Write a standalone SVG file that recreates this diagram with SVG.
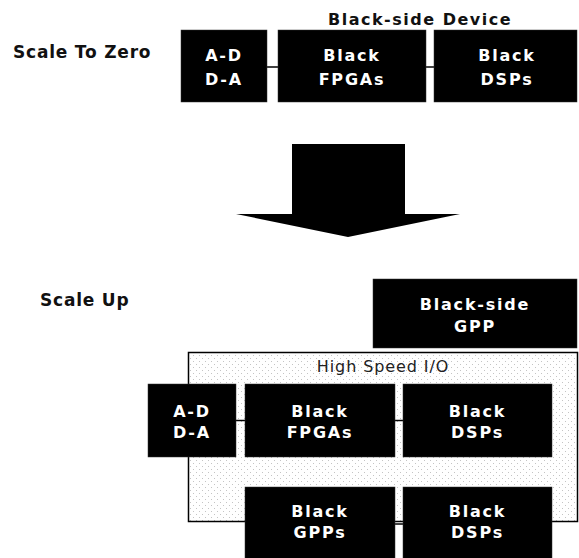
<svg xmlns="http://www.w3.org/2000/svg" width="579" height="558" viewBox="0 0 579 558">
  <defs>
    <pattern id="dots" width="6" height="6" patternUnits="userSpaceOnUse">
      <rect width="6" height="6" fill="#ffffff"/>
      <rect x="1" y="1" width="1" height="1" fill="#c4c4c4"/>
      <rect x="4" y="4" width="1" height="1" fill="#c4c4c4"/>
    </pattern>
  </defs>
  <style>
    .box { fill: #000000; stroke: #333333; stroke-width: 0.5; }
    .bt { font-family: "DejaVu Sans", "Liberation Sans", sans-serif; font-weight: bold; font-size: 16px; fill: #ffffff; text-anchor: middle; letter-spacing: 1.8px; }
    .lbl { font-family: "DejaVu Sans", "Liberation Sans", sans-serif; font-weight: bold; font-size: 17px; fill: #111111; letter-spacing: 0.8px; }
    .hdr { font-family: "DejaVu Sans", "Liberation Sans", sans-serif; font-weight: bold; font-size: 16px; fill: #111111; letter-spacing: 1.5px; }
    .io { font-family: "DejaVu Sans", "Liberation Sans", sans-serif; font-size: 16px; fill: #222222; text-anchor: middle; letter-spacing: 0.9px; }
    .conn { stroke: #000000; stroke-width: 1.5; fill: none; }
  </style>
  <rect width="579" height="558" fill="#ffffff"/>

  <g id="label-scale-to-zero"><text class="lbl" x="13" y="58">Scale To Zero</text></g>
  <g id="label-black-side-device"><text class="hdr" x="328" y="25">Black-side Device</text></g>
  <g id="label-scale-up"><text class="lbl" x="40" y="306">Scale Up</text></g>

  <g id="high-speed-io">
    <rect x="188.5" y="352.5" width="389" height="169" fill="url(#dots)" stroke="#000000" stroke-width="1.5"/>
    <text class="io" x="383" y="372">High Speed I/O</text>
  </g>

  <g id="connectors">
    <line class="conn" x1="267" y1="67" x2="278" y2="67"/>
    <line class="conn" x1="426" y1="67" x2="434" y2="67"/>
    <line class="conn" x1="236" y1="420.5" x2="245" y2="420.5"/>
    <line class="conn" x1="395" y1="420.5" x2="403" y2="420.5"/>
    <line class="conn" x1="395" y1="524" x2="403" y2="524"/>
  </g>

  <g id="arrow">
    <polygon points="292,144 405,144 405,214 460,214 348,237 236,214 292,214" fill="#000000"/>
  </g>

  <g id="top-ad">
    <rect class="box" x="181" y="30" width="86" height="72"/>
    <text class="bt" x="224" y="61">A-D</text>
    <text class="bt" x="224" y="85">D-A</text>
  </g>
  <g id="top-fpga">
    <rect class="box" x="278" y="30" width="148" height="72"/>
    <text class="bt" x="352" y="61">Black</text>
    <text class="bt" x="352" y="85">FPGAs</text>
  </g>
  <g id="top-dsp">
    <rect class="box" x="434" y="30" width="143" height="72"/>
    <text class="bt" x="507" y="61">Black</text>
    <text class="bt" x="507" y="85">DSPs</text>
  </g>

  <g id="gpp-black-side">
    <rect class="box" x="373" y="279" width="204" height="69"/>
    <text class="bt" x="475" y="310">Black-side</text>
    <text class="bt" x="475" y="332">GPP</text>
  </g>

  <g id="low-ad">
    <rect class="box" x="148" y="384" width="88" height="73"/>
    <text class="bt" x="192" y="416.5">A-D</text>
    <text class="bt" x="192" y="438">D-A</text>
  </g>
  <g id="low-fpga">
    <rect class="box" x="245" y="384" width="150" height="73"/>
    <text class="bt" x="320" y="416.5">Black</text>
    <text class="bt" x="320" y="438">FPGAs</text>
  </g>
  <g id="low-dsp">
    <rect class="box" x="403" y="384" width="149" height="73"/>
    <text class="bt" x="477.5" y="416.5">Black</text>
    <text class="bt" x="477.5" y="438">DSPs</text>
  </g>
  <g id="low-gpp">
    <rect class="box" x="245" y="487" width="150" height="75"/>
    <text class="bt" x="320" y="516.5">Black</text>
    <text class="bt" x="320" y="538">GPPs</text>
  </g>
  <g id="low-dsp2">
    <rect class="box" x="403" y="487" width="149" height="75"/>
    <text class="bt" x="477.5" y="516.5">Black</text>
    <text class="bt" x="477.5" y="538">DSPs</text>
  </g>
</svg>
